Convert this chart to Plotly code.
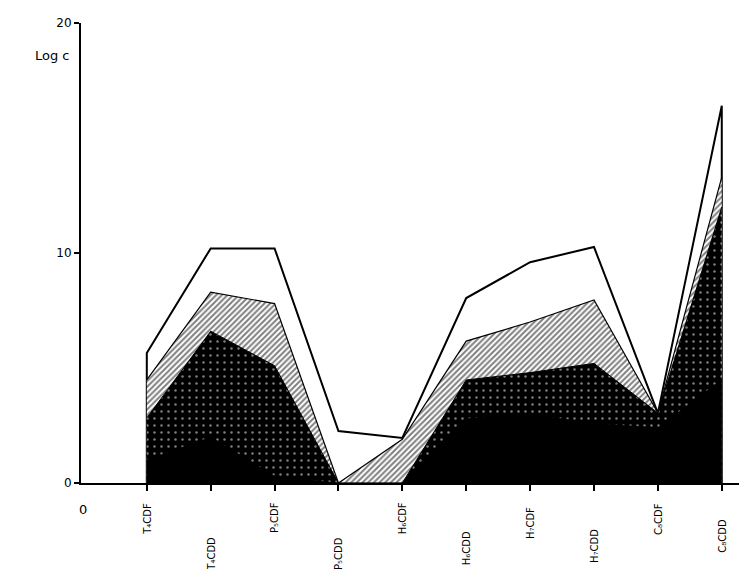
import plotly.graph_objects as go

# ---- data ----
categories = ["T₄CDF", "T₄CDD", "P₅CDF", "P₅CDD", "H₆CDF",
              "H₆CDD", "H₇CDF", "H₇CDD", "C₈CDF", "C₈CDD"]
x_pos = [1, 2, 3, 4, 5, 6, 7, 8, 9, 10]
outer_top   = [5.65, 10.2, 10.2, 2.26, 1.96, 8.04, 9.6, 10.26, 3.04, 16.4]
hatched_top = [4.48, 8.3, 7.8, 0.0, 1.9, 6.17, 7.0, 7.96, 3.04, 13.3]
stipple_top = [2.83, 6.6, 5.1, 0.0, 0.0, 4.48, 4.8, 5.2, 3.04, 12.0]
black_top   = [1.0, 2.0, 0.3, 0.0, 0.0, 2.8, 3.0, 2.6, 2.4, 4.5]
y_ticks = [0, 10, 20]
origin_label = "0"

# pixel offsets of the staggered hand-written labels (style only)
label_drop = [18, 52, 17, 52, 17, 46, 22, 44, 18, 34]

fig = go.Figure()

# white outer band, outlined, closed down to the axis at both ends
fig.add_trace(go.Scatter(
    x=[x_pos[0]] + x_pos + [x_pos[-1]],
    y=[0] + outer_top + [0],
    mode="lines", fill="tozeroy", fillcolor="white",
    line=dict(color="black", width=2), hoverinfo="skip", showlegend=False))

# hatched band
fig.add_trace(go.Scatter(
    x=x_pos, y=hatched_top, mode="lines", fill="tozeroy", fillcolor="white",
    fillpattern=dict(shape="/", fgcolor="black", bgcolor="white",
                     size=4, solidity=0.5),
    line=dict(color="black", width=1.2), hoverinfo="skip", showlegend=False))

# stippled dark band
fig.add_trace(go.Scatter(
    x=x_pos, y=stipple_top, mode="lines", fill="tozeroy", fillcolor="black",
    fillpattern=dict(shape=".", fgcolor="white", bgcolor="black",
                     size=7, solidity=0.1),
    line=dict(color="black", width=1), hoverinfo="skip", showlegend=False))

# solid black band
fig.add_trace(go.Scatter(
    x=x_pos, y=black_top, mode="lines", fill="tozeroy", fillcolor="black",
    line=dict(color="black", width=0.5), hoverinfo="skip", showlegend=False))

annotations = []
for xp, lab, drop in zip(x_pos, categories, label_drop):
    annotations.append(dict(
        x=xp, y=0, xref="x", yref="y", text=lab, showarrow=False,
        textangle=-90, xanchor="center", yanchor="top", yshift=-drop,
        font=dict(family="DejaVu Sans", size=10, color="black")))
annotations.append(dict(
    x=0, y=0, xref="x", yref="y", text=origin_label, showarrow=False,
    xanchor="center", yanchor="top", yshift=-17,
    font=dict(family="DejaVu Sans", size=13, color="black")))
annotations.append(dict(
    x=0, y=1, xref="paper", yref="paper", xshift=-48, yshift=-32,
    text="Log c", showarrow=False, xanchor="left", yanchor="middle",
    font=dict(family="DejaVu Sans", size=13, color="black")))

fig.update_layout(
    width=747, height=569,
    margin=dict(l=73, r=0, t=15, b=94),
    paper_bgcolor="white", plot_bgcolor="white",
    annotations=annotations,
    xaxis=dict(range=[-0.03, 10.52], showgrid=False, zeroline=False,
               showline=True, linecolor="black", linewidth=2,
               tickmode="array", tickvals=x_pos, ticks="outside",
               ticklen=6, tickwidth=2, tickcolor="black",
               showticklabels=False),
    yaxis=dict(range=[0, 20], showgrid=False, zeroline=False,
               showline=True, linecolor="black", linewidth=2,
               tickmode="array", tickvals=y_ticks, ticks="outside",
               ticklen=5, tickwidth=2, tickcolor="black",
               tickfont=dict(family="DejaVu Sans", size=12, color="black")),
)

fig.write_html("out.html")
